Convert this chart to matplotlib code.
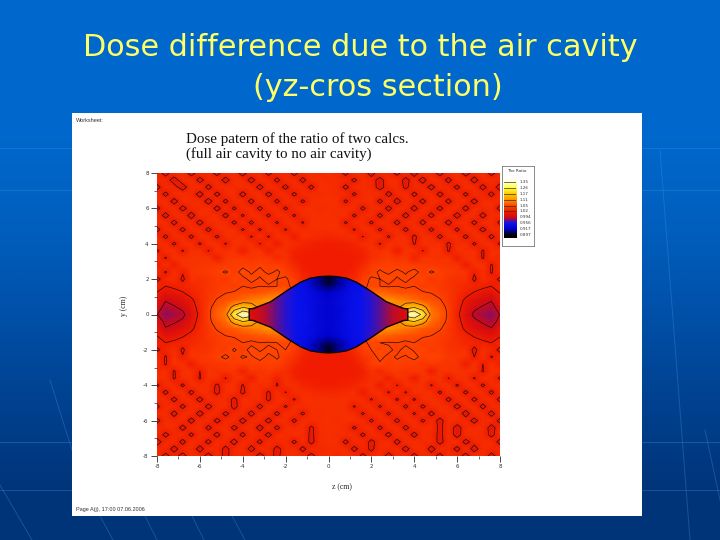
import numpy as np
import matplotlib
matplotlib.use("Agg")
import matplotlib.pyplot as plt
from matplotlib.colors import LinearSegmentedColormap, Normalize
from matplotlib.patches import Polygon
from matplotlib.ticker import MultipleLocator

plt.rcParams["axes.unicode_minus"] = False

slide_title_1 = "Dose difference due to the air cavity"
slide_title_2 = "(yz-cros section)"
plot_title = "Dose patern of the ratio of two calcs.\n(full air cavity to no air cavity)"
sheet_label = "Worksheet:"
footer_label = "Page A(j), 17:00 07.06.2006"
x_label = "z (cm)"
y_label = "y (cm)"
legend_title = "The Ratio"
ticks = [-8, -6, -4, -2, 0, 2, 4, 6, 8]

levels = [0.897, 0.917, 0.956, 0.994, 1.02, 1.05, 1.11, 1.17, 1.26, 1.35]
level_labels = ["0.897", "0.917", "0.956", "0.994", "1.02", "1.05", "1.11", "1.17", "1.26", "1.35"]
level_colors = ["#000000", "#0000c8", "#0a14f0", "#d00a14", "#f01a00", "#ff4400",
                "#ff9400", "#ffcc00", "#ffff40", "#ffffe0"]
contour_levels = [0.994, 1.02, 1.05, 1.11, 1.17, 1.26]

# Field around the cavity: (ratio - 1) in thousandths, estimated by eye.
# Rows run from y=8 down to y=-8 and columns from z=-8 to z=8, both in 0.4 cm steps.
z_cm = np.arange(-20, 21) * 0.4
y_cm = np.arange(20, -21, -1) * 0.4
outer_permille = [
 [30,12,32,34,10, 32,30,12,34,32, 10,34,32,14,30, 34,12,32,34,30, 34, 30,14,34,32,10, 34,30,14,32,10, 34,30,12,32,34, 10,30,34,12,32],
 [32,30,10,33,34, 12,31,33,10,34, 33,11,33,31,15, 31,33,13,33,34, 33, 32,31,15,34,30, 11,33,32,13,30, 11,34,31,13,33, 32,11,32,33,30],
 [12,33,28,9,33, 34,13,32,33,30, 34,33,12,34,30, 14,33,32,14,34, 35, 33,14,32,33,30, 12,30,33,15,33, 30,12,33,30,14, 34,32,13,31,10],
 [33,14,33,34,31, 11,34,14,31,34, 12,33,34,13,31, 33,15,33,33,33, 34, 33,33,16,33,34, 33,13,30,34,14, 32,33,13,31,33, 15,33,30,14,32],
 [30,34,11,33,33, 32,10,33,15,33, 32,13,34,32,15, 34,33,16,33,34, 35, 34,16,33,32,34, 14,34,11,33,31, 13,34,31,14,33, 32,12,33,32,30],
 [14,32,33,12,31, 33,34,12,33,16, 33,33,14,33,33, 16,33,34,34,33, 34, 34,33,34,15,33, 34,12,33,32,12, 33,30,14,32,33, 12,33,31,33,13],
 [33,12,33,33,10, 34,33,33,13,34, 17,34,33,16,34, 33,17,33,35,34, 35, 33,34,16,33,34, 14,33,33,12,33, 30,14,33,33,11, 33,34,12,33,32],
 [32,33,13,34,32, 12,33,35,33,15, 34,15,34,33,17, 34,33,18,34,35, 34, 34,17,34,33,16, 34,33,13,33,33, 13,34,32,12,33, 33,14,33,34,15],
 [13,33,32,14,34, 33,14,33,35,34, 17,34,17,34,33, 18,34,33,35,34, 35, 35,33,18,34,34, 16,33,34,14,34, 33,15,33,33,15, 34,32,13,33,32],
 [33,15,33,33,15, 34,34,16,34,34, 36,18,35,18,35, 34,20,34,32,30, 28, 30,33,34,19,34, 35,17,34,35,15, 34,33,14,34,34, 14,34,34,14,33],
 [34,33,16,34,34, 17,35,35,18,36, 35,36,19,36,20, 35,33,28,24,23, 22, 23,24,28,34,35, 18,36,34,36,18, 35,34,35,16,33, 35,16,33,33,16],
 [16,34,35,18,35, 36,19,37,36,38, 20,37,38,22,37, 34,26,23,22,22, 21, 22,22,23,26,36, 36,38,20,37,36, 19,36,36,18,35, 34,34,18,34,34],
 [35,18,36,36,37, 38,38,21,39,40, 41,38,42,40,30, 36,24,22,21,21, 21, 21,21,22,24,34, 38,42,38,40,24, 39,38,36,37,20, 36,36,18,35,30],
 [20,36,20,37,38, 39,40,40,42,44, 46,44,48,44,46, 40,30,23,21,21, 21, 21,21,23,30,42, 46,48,44,46,42, 42,41,40,38,37, 20,36,37,18,34],
 [34,18,36,22,38, 41,42,46,52,44, 56,48,54,47,52, 46,38,26,22,21, 21, 21,22,26,38,46, 52,47,54,48,56, 44,52,46,42,40, 38,22,36,18,32],
 [14,30,34,16,36, 36,38,44,40,50, 46,54,48,56,50, 52,44,30,24,22, 21, 22,24,30,44,52, 50,56,48,54,46, 50,40,44,38,36, 36,16,34,28,16],
 [30,20,24,28,30, 34,38,42,46,44, 50,46,50,48,50, 52,48,40,30,30, 30, 30,30,40,48,52, 50,48,50,46,50, 44,46,42,38,34, 30,28,24,20,28],
 [18,8,12,18,26, 32,40,44,50,52, 55,60,62,70,80, 70,50,50,50,50, 50, 50,50,50,50,70, 80,70,62,60,55, 52,50,44,40,32, 26,18,12,8,20],
 [10,-5,0,5,16, 30,40,52,58,66, 80,90,100,110,100, 100,100,100,100,100, 100, 100,100,100,100,100, 100,110,100,90,80, 66,58,52,40,30, 16,5,0,-5,12],
 [2,-12,-8,-2,10, 28,44,62,78,130, 170,140,100,100,100, 100,100,100,100,100, 100, 100,100,100,100,100, 100,100,100,140,170, 130,78,62,44,28, 10,-2,-8,-12,2],
 [-5,-20,-15,-10,5, 25,45,70,90,230, 350,300,100,100,100, 100,100,100,100,100, 100, 100,100,100,100,100, 100,100,100,300,350, 230,90,70,45,25, 5,-10,-15,-20,-5],
 [4,-10,-8,-3,10, 28,44,62,78,130, 170,140,100,100,100, 100,100,100,100,100, 100, 100,100,100,100,100, 100,100,100,140,170, 130,78,62,44,28, 10,-2,-8,-14,0],
 [12,-5,0,5,16, 30,40,52,58,66, 80,90,100,110,100, 100,100,100,100,100, 100, 100,100,100,100,100, 100,110,100,90,80, 66,58,52,40,30, 16,5,0,-5,10],
 [20,8,12,18,26, 32,40,44,50,52, 55,60,62,70,80, 70,50,50,50,50, 50, 50,50,50,50,70, 80,70,62,60,55, 52,50,44,40,32, 26,18,12,8,18],
 [28,20,24,28,30, 34,38,42,46,44, 50,46,50,48,50, 52,48,40,30,30, 30, 30,30,40,48,52, 50,48,50,46,50, 44,46,42,38,34, 30,28,24,20,30],
 [16,28,34,16,36, 36,38,44,42,52, 44,56,48,54,50, 50,44,30,24,22, 21, 22,24,32,46,50, 52,54,46,56,48, 50,42,44,38,36, 36,14,34,30,14],
 [32,18,36,22,38, 40,42,46,54,44, 52,48,56,46,52, 44,38,26,22,21, 21, 21,22,26,38,44, 54,46,52,48,56, 44,50,46,41,38, 38,20,36,18,30],
 [34,18,37,36,20, 37,38,40,41,44, 42,46,44,48,46, 40,30,23,21,21, 21, 21,21,23,30,46, 48,44,46,44,42, 40,42,40,39,38, 20,37,20,36,22],
 [30,35,18,36,36, 20,37,36,38,39, 24,40,38,42,38, 34,24,22,21,21, 21, 21,21,22,24,36, 30,40,42,38,41, 40,21,38,38,37, 36,36,18,36,35],
 [34,34,18,34,35, 18,36,36,19,36, 37,20,38,36,24, 36,26,23,22,22, 21, 22,22,23,26,34, 37,22,38,37,20, 38,36,37,19,36, 35,18,35,34,16],
 [16,33,33,16,35, 33,34,16,34,36, 18,36,34,36,18, 35,34,28,24,23, 22, 23,24,28,33,35, 20,36,19,36,35, 36,18,35,35,17, 34,34,16,33,34],
 [33,14,34,34,14, 34,33,14,34,35, 15,34,33,17,34, 19,34,33,32,30, 28, 30,32,34,20,34, 35,18,35,18,36, 34,34,16,34,34, 15,33,33,15,33],
 [32,33,13,34,32, 12,34,33,33,14, 34,33,34,16,34, 34,18,34,35,35, 35, 34,35,33,34,18, 33,34,17,34,17, 34,35,33,14,33, 34,14,32,33,13],
 [15,33,33,14,33, 33,12,32,34,13, 33,33,13,34,33, 17,34,33,34,34, 34, 35,34,18,33,34, 17,33,34,15,34, 15,33,35,33,12, 32,34,13,33,32],
 [32,33,12,34,33, 11,33,33,14,30, 33,12,33,33,14, 34,33,16,34,33, 35, 34,35,33,17,33, 34,16,33,34,17, 34,13,33,33,34, 10,33,33,12,33],
 [13,33,31,33,12, 33,32,14,30,33, 12,32,33,12,34, 33,15,34,33,34, 34, 33,34,34,33,16, 33,33,14,33,33, 16,33,12,34,33, 31,12,33,32,14],
 [30,32,33,12,32, 33,14,31,34,13, 31,33,11,34,14, 33,32,34,16,33, 35, 34,33,16,33,34, 15,32,34,13,33, 32,33,15,33,10, 32,33,33,11,32],
 [32,14,30,33,15, 33,31,13,34,32, 14,34,30,13,33, 33,34,33,15,33, 34, 33,33,33,15,33, 31,13,34,33,12, 34,31,14,34,11, 33,34,31,14,33],
 [10,31,32,13,34, 30,14,33,30,12, 33,30,15,33,30, 33,15,34,14,33, 35, 34,14,32,33,14, 30,34,12,33,34, 30,33,13,32,34, 13,28,33,33,12],
 [30,32,11,32,33, 11,33,32,13,31, 34,11,33,32,13, 30,33,13,33,31, 33, 33,33,13,31,15, 33,31,33,11,33, 34,10,33,31,13, 34,10,33,30,32],
 [32,12,30,10,34, 31,10,32,14,30, 32,34,10,30,14, 32,34,30,12,32, 34, 30,34,32,14,30, 34,10,32,34,12, 32,30,12,34,32, 10,34,32,12,30],
]
outer_ratio = 1 + np.array(outer_permille) / 1000.0

# Field inside the cavity, ratio in thousandths.
cavity_z = np.arange(-8, 9) * 0.5
cavity_y = [2.25, 1.75, 1.25, 0.75, 0.25, -0.25, -0.75, -1.25, -1.75, -2.25]
cavity_permille = [
 [1000,1000,990,975,962,950,935,915,897,915,935,950,962,975,990,1000,1000],
 [1000,1000,990,975,962,950,938,912,902,912,938,950,962,975,990,1000,1000],
 [1000,1000,990,975,965,950,945,930,918,930,945,950,965,975,990,1000,1000],
 [1005,1000,990,975,962,952,945,935,925,935,945,952,962,975,990,1000,1005],
 [1005,1000,990,975,962,952,947,932,925,932,947,952,962,975,990,1000,1005],
 [1005,1000,990,975,962,952,947,932,925,932,947,952,962,975,990,1000,1005],
 [1005,1000,990,975,962,952,945,935,925,935,945,952,962,975,990,1000,1005],
 [1000,1000,990,975,965,950,945,930,918,930,945,950,965,975,990,1000,1000],
 [1000,1000,990,975,962,950,938,912,902,912,938,950,962,975,990,1000,1000],
 [1000,1000,990,975,962,950,935,915,897,915,935,950,962,975,990,1000,1000],
]
cavity_ratio = np.array(cavity_permille) / 1000.0

# Cavity outline: half-height against z.
outline_z = [-3.7, -3.7, -3.5, -2.7, -1.9, -1.3, -0.85, -0.4, 0.0, 0.4, 0.85, 1.3, 1.9, 2.7, 3.5, 3.7, 3.7]
outline_h = [0.0, 0.32, 0.34, 0.72, 1.38, 1.83, 2.05, 2.14, 2.17, 2.14, 2.05, 1.83, 1.38, 0.72, 0.34, 0.32, 0.0]

slide_gradient = ["#0068cc", "#0068cc", "#005fbe", "#0050a8", "#00418f", "#003478"]
slide_rows = [[c] for c in range(len(slide_gradient))]
slide_lines = [
    ([0, 72], [148, 148]), ([642, 720], [148, 148]),
    ([0, 72], [190, 190]), ([642, 720], [190, 190]),
    ([0, 72], [442, 442]), ([642, 720], [442, 442]),
    ([0, 72], [490, 490]), ([642, 720], [490, 490]),
    ([50, 72], [380, 450]), ([0, 32], [485, 540]), ([100, 113], [516, 540]),
    ([145, 157], [516, 540]), ([192, 204], [516, 540]), ([232, 245], [516, 540]),
    ([660, 690], [150, 540]), ([705, 720], [430, 500]),
]

lo, hi = levels[0], levels[-1]
node_positions = [(v - lo) / (hi - lo) for v in levels]
cmap = LinearSegmentedColormap.from_list("ratio", list(zip(node_positions, level_colors)), N=2048)
norm = Normalize(lo, hi)


def box(fig, x0, y0, x1, y1, **kw):
    return fig.add_axes([x0 / 720, 1 - y1 / 540, (x1 - x0) / 720, (y1 - y0) / 540], **kw)


fig = plt.figure(figsize=(7.2, 5.4), dpi=100)

bg = box(fig, 0, 0, 720, 540)
grad_cmap = LinearSegmentedColormap.from_list("slide", slide_gradient)
bg.imshow(np.array(slide_rows), aspect="auto", cmap=grad_cmap, extent=(0, 720, 540, 0),
          interpolation="bilinear")
for xs, ys in slide_lines:
    bg.plot(xs, ys, color="#3f8fe0", lw=0.7, alpha=0.35)
bg.set_xlim(0, 720)
bg.set_ylim(540, 0)
bg.axis("off")
bg.text(360.5, 48, slide_title_1, ha="center", va="center", fontsize=21.8, color="#ffff66", family="DejaVu Sans")
bg.text(378, 87, slide_title_2, ha="center", va="center", fontsize=21.8, color="#ffff66", family="DejaVu Sans")

panel = box(fig, 72, 113, 642, 516)
panel.set_facecolor("white")
panel.set_xlim(72, 642)
panel.set_ylim(516, 113)
panel.set_xticks([])
panel.set_yticks([])
for s in panel.spines.values():
    s.set_visible(False)
panel.text(76, 120, sheet_label, fontsize=4, color="#333333", va="center", family="Liberation Sans")
panel.text(76, 510, footer_label, fontsize=4, color="#333333", va="center", family="Liberation Sans")
panel.text(186, 147, plot_title, fontsize=10.8, color="#111111", va="center", family="Liberation Serif",
           linespacing=1.1)
panel.text(342, 487, x_label, fontsize=5.5, color="#222222", ha="center", va="center", family="Liberation Serif")
panel.text(124, 306, y_label, fontsize=5.5, color="#222222", rotation=90, ha="center", va="center",
           family="Liberation Serif")

ax = box(fig, 157, 173, 500, 456)
ax.pcolormesh(z_cm, y_cm, outer_ratio, cmap=cmap, norm=norm, shading="gouraud", rasterized=True, zorder=1)
ax.contour(z_cm, y_cm, outer_ratio, levels=contour_levels, colors="#1a0808", linewidths=0.45, zorder=2)
poly_xy = list(zip(outline_z, outline_h)) + list(zip(outline_z[::-1], [-h for h in outline_h[::-1]]))
poly = Polygon(poly_xy, closed=True, facecolor="none", edgecolor="#0a0000", linewidth=1.0, zorder=4)
ax.add_patch(poly)
mesh = ax.pcolormesh(cavity_z, cavity_y, cavity_ratio, cmap=cmap, norm=norm, shading="gouraud", zorder=3)
mesh.set_clip_path(poly)
ax.set_xlim(-8, 8)
ax.set_ylim(-8, 8)
ax.set_xticks(ticks)
ax.set_yticks(ticks)
ax.xaxis.set_minor_locator(MultipleLocator(1))
ax.yaxis.set_minor_locator(MultipleLocator(1))
ax.tick_params(axis="both", which="major", length=4, width=0.5, labelsize=4, pad=2, labelcolor="#333333")
ax.tick_params(axis="both", which="minor", length=2, width=0.4)
for s in ax.spines.values():
    s.set_visible(False)

legend_box = box(fig, 502, 166, 534, 246)
legend_box.set_xlim(502, 534)
legend_box.set_ylim(246, 166)
legend_box.set_xticks([])
legend_box.set_yticks([])
legend_box.set_facecolor("white")
for s in legend_box.spines.values():
    s.set_color("#777777")
    s.set_linewidth(0.6)
legend_box.text(517, 171, legend_title, fontsize=3, ha="center", va="center", color="#333333")

swatch = box(fig, 504, 179, 516, 238)
swatch.imshow(np.array(levels[::-1]).reshape(-1, 1), cmap=cmap, norm=norm, aspect="auto",
              interpolation="bilinear", extent=(0, 1, -0.5, len(levels) - 0.5))
for i, v in enumerate(levels):
    if v >= 1.02:
        swatch.axhline(i, color="#333300", lw=0.5)
swatch.set_ylim(-0.5, len(levels) - 0.5)
swatch.axis("off")
for i, lab in enumerate(level_labels):
    legend_box.text(520, 238 - (i + 0.5) * 59 / len(levels), lab, fontsize=3, va="center", color="#333333")

fig.savefig("out.png", dpi=100)
